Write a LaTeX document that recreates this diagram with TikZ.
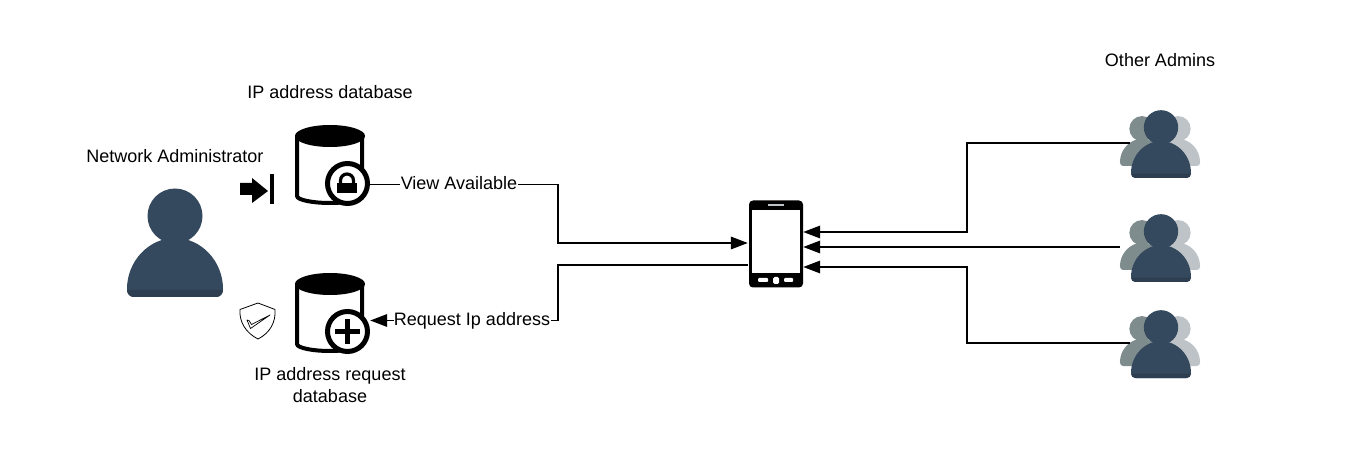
\documentclass[tikz,border=0pt]{standalone}
\usepackage{fontspec}
\setmainfont{Liberation Sans}
\usetikzlibrary{arrows.meta}
\definecolor{pdark}{HTML}{34495E}
\definecolor{pband}{HTML}{2C3E50}
\definecolor{pleft}{HTML}{7F8C8D}
\definecolor{pright}{HTML}{BDC3C7}
\newcommand{\personshape}[1]{%
  \fill[#1] (0,-81) circle[radius=27.5];
  \fill[#1] (-48,-8) .. controls (-48,-36) and (-26,-59) .. (0,-59)
    .. controls (26,-59) and (48,-36) .. (48,-8)
    .. controls (48,-3) and (45,0) .. (41,0) -- (-41,0)
    .. controls (-45,0) and (-48,-3) .. (-48,-8) -- cycle;
}
\newcommand{\personband}{%
  \fill[pband] (-48,-7) .. controls (-48,-3) and (-45,0) .. (-41,0) -- (41,0)
    .. controls (45,0) and (48,-3) .. (48,-7) -- cycle;
}
\tikzset{
  x=1pt,y=-1pt,
  lbl/.style={font=\fontsize{18}{22}\selectfont,inner sep=0pt,align=center},
  flow/.style={line width=1.8pt,draw=black},
  flowhead/.style={flow,-{Triangle[length=17pt,width=12.5pt]}},
  port/.style={inner sep=0pt,minimum size=0pt},
  pics/dbase/.style={code={
    \draw[line width=4pt,fill=white] (2,11) -- (2,71) .. controls (2,75) and (18,78) .. (35,78)
       .. controls (52,78) and (67,75) .. (67,71) -- (67,11);
    \fill[black] (35,11) ellipse[x radius=35,y radius=11];
    \draw[line width=5pt,fill=white] (52.5,58.5) circle[radius=20];
  }},
  pics/smallperson/.style={code={
    \begin{scope}[shift={(-19,-12)},xscale=.46,yscale=.46]
      \personshape{pleft}
    \end{scope}
    \begin{scope}[shift={(17,-12)},xscale=.46,yscale=.46]
      \personshape{pright}
    \end{scope}
    \begin{scope}[xscale=.625,yscale=.625]
      \personshape{pdark}
      \personband
    \end{scope}
  }}
}
\begin{document}
\begin{tikzpicture}
\useasboundingbox (0,0) rectangle (1349,462);

% labels
\node[lbl] (tDb1) at (330,92) {IP address database};
\node[lbl] (tNet) at (175,156) {Network Administrator};
\node[lbl] (tOther) at (1160,60) {Other Admins};
\node[lbl] (tDb2) at (330,385) {IP address request\\database};

% network administrator
\begin{scope}[shift={(175,297)}]
  \personshape{pdark}
  \personband
\end{scope}

% arrow-to-bar icon
\fill (240,183) -- (252,183) -- (252,178) -- (268,191) -- (252,203) -- (252,195) -- (240,195) -- cycle;
\fill (270,174) rectangle (274,204);

% shield icon
\draw[line width=.8pt,line join=round] (258,303) -- (275,309.5) .. controls (276,322) and (270,333) .. (258,339)
   .. controls (246,333) and (239,322) .. (240,309.5) -- cycle;
\draw[line width=.7pt,line join=round] (247,320) -- (250.5,328.5) -- (270,315) -- (251.5,324.5) -- (249,320.5) -- cycle;

% databases
\pic at (295,125) {dbase};
\fill (337,183.5) rectangle (357,193.5);
\draw[line width=3.2pt] (340.5,184) -- (340.5,180.5) arc[start angle=180,end angle=360,radius=6.5] -- (353.5,184);
\pic at (295,273) {dbase};
\fill (334.5,329) rectangle (360,334);
\fill (345,319) rectangle (350,344);

% phone
\node[port,fill=black,rounded corners=4pt,minimum width=54pt,minimum height=87pt] (phone) at (776,244) {};
\fill[white] (752,210) rectangle (800,273);
\fill[pright] (768,204) rectangle (784,205.8);
\fill[white,rounded corners=1pt] (758,278) rectangle (768,282);
\fill[white,rounded corners=1.5pt] (773,277) rectangle (779,284);
\fill[white,rounded corners=1pt] (784,278) rectangle (793,282);

% other admins
\pic at (1161,178) {smallperson};
\pic at (1161,282) {smallperson};
\pic at (1161,378) {smallperson};

% connector ports
\node[port] (admA) at (1130,143) {};
\node[port] (admB) at (1120,247) {};
\node[port] (admC) at (1130,343) {};
\node[port] (phA) at (803,232) {};
\node[port] (phB) at (803,247) {};
\node[port] (phC) at (803,267) {};
\node[port] (phIn) at (748,243) {};
\node[port] (phOut) at (748,265) {};
\node[port] (bendA) at (967,232) {};
\node[port] (bendC) at (967,267) {};
\node[port] (dbLock) at (370,184.5) {};
\node[port] (dbPlus) at (370,320.5) {};

\node[lbl] (view) at (459,183) {View Available};
\node[lbl] (req) at (472,320.5) {Request Ip address};
\node[port] (viewL) at (400,184.5) {};
\node[port] (viewR) at (518,184.5) {};
\node[port] (reqL) at (394,320.5) {};
\node[port] (reqR) at (551,320.5) {};
\node[port] (bendV) at (558,243) {};
\node[port] (bendR) at (558,265) {};

\draw[flow] (dbLock) -- (viewL);
\draw[flowhead] (viewR) -| (bendV.center) -- (phIn);
\draw[flow] (phOut) -- (bendR.center) |- (reqR);
\draw[flowhead] (reqL) -- (dbPlus);
\draw[flowhead] (admA) -| (bendA.center) -- (phA);
\draw[flowhead] (admB) -- (phB);
\draw[flowhead] (admC) -| (bendC.center) -- (phC);
\end{tikzpicture}
\end{document}
